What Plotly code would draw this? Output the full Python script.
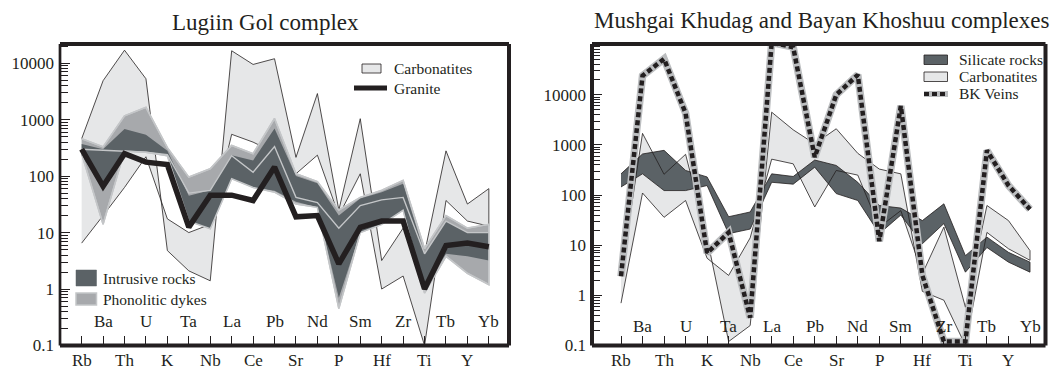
import plotly.graph_objects as go

# the page body keeps its default 8px margin, so the figure is drawn 8px in
OFF = 8
W, H = 1064 - OFF, 370 - OFF

elements = ["Rb", "Ba", "Th", "U", "K", "Ta", "Nb", "La", "Ce", "Pb",
            "Sr", "Nd", "P", "Sm", "Hf", "Zr", "Ti", "Tb", "Y", "Yb"]
y_tick_vals = [0.1, 1, 10, 100, 1000, 10000]
y_tick_text = ["0.1", "1", "10", "100", "1000", "10000"]

# ---------------- Lugiin Gol complex (left) ----------------
lg_carb_a = [460, 4900, 17000, 5300, 4.8, 2.1, 1.4, 16600, 9500, 12000,
             215, 2900, 25, 1040, 3.2, 12, 4.3, 280, 32, 60]
lg_carb_b = [6.5, 20, 63, 220, 17.5, 10, 14, 550, 400, 260,
             110, 235, 20, 110, 1.0, 1.7, 0.1, 37, 16, 13]
lg_phon_hi = [460, 330, 1170, 1650, 320, 96, 135, 350, 250, 1050,
              110, 80, 25, 42, 56, 84, 5.2, 20, 12, 14]
lg_phon_lo = [250, 14, 280, 265, 230, 16, 11.7, 90, 63, 52,
              32, 28, 0.45, 10, 14, 25, 0.85, 3.8, 1.9, 1.2]
lg_intr_hi = [370, 300, 680, 540, 280, 45, 56, 235, 190, 700,
              100, 75, 20, 40, 52, 73, 4.2, 16, 10, 10]
lg_intr_lo = [230, 63, 280, 265, 240, 16, 11.7, 90, 63, 55,
              35, 28, 0.7, 10, 14, 25, 1.1, 4.2, 3.8, 3.2]
lg_inner = [300, 290, 280, 265, 240, 50, 56, 230, 117, 335,
            42, 34, 12, 30, 38, 42, 4.2, 16, 10, 10]
lg_granite = [300, 66, 250, 177, 160, 12.5, 46, 46, 37, 145,
              19, 20, 2.8, 12.4, 16, 16, 1.0, 5.9, 6.5, 5.6]

# ---------------- Mushgai Khudag & Bayan Khoshuu (right) ----------------
mk_sil_hi = [265, 660, 780, 310, 230, 37, 46, 265, 235, 500,
             390, 180, 62, 55, 31, 67, 6.2, 14.5, 7.2, 4.6]
mk_sil_lo = [145, 265, 123, 123, 155, 17, 21, 180, 165, 360,
             107, 78, 17, 40, 10.7, 27, 2.9, 9, 4.6, 2.9]
mk_carb_a = [2.5, 1700, 260, 650, 14, 0.12, 0.25, 4500, 2000, 1050,
             2100, 680, 330, 265, 1.2, 0.8, 0.1, 18, 8.5, 5.0]
mk_carb_b = [0.7, 110, 36, 78, 5.5, 2.5, 14, 520, 420, 58,
             310, 250, 23, 49, 2.7, 23, 0.58, 62, 31, 7.8]
mk_bk_veins = [2.4, 24000, 52000, 4300, 7, 18, 0.36, 110000, 89000, 570,
               10000, 25000, 12, 6000, 2.5, 0.12, 0.12, 780, 155, 52]

# ---------------- styles ----------------
FONT = "Liberation Serif"
INK = "#231f20"
LIGHT = "#e6e7e8"
DARK = "#5b6266"
MED = "#a7a9ac"
MED_EDGE = "#c4c6c8"
VEIN_GRAY = "#bcbec0"

xs = list(range(len(elements)))


def poly(a, b):
    return xs + xs[::-1], list(a) + list(b)[::-1]


fig = go.Figure()


def add_band(a, b, xa, ya, fillcolor=None, line_color=None, line_width=0):
    px_, py_ = poly(a, b)
    fig.add_trace(go.Scatter(
        x=px_, y=py_, xaxis=xa, yaxis=ya, mode="lines",
        fill="toself" if fillcolor else "none",
        fillcolor=fillcolor,
        line=dict(color=line_color or "rgba(0,0,0,0)", width=line_width),
        hoverinfo="skip", showlegend=False))


# left chart
add_band(lg_carb_a, lg_carb_b, "x", "y", LIGHT, INK, 0.8)
add_band(lg_phon_hi, lg_phon_lo, "x", "y", MED, MED_EDGE, 1.6)
add_band(lg_intr_hi, lg_intr_lo, "x", "y", DARK, None, 0)
add_band(lg_phon_hi, lg_phon_lo, "x", "y", None, MED_EDGE, 1.4)
fig.add_trace(go.Scatter(x=xs, y=lg_inner, xaxis="x", yaxis="y", mode="lines",
                         line=dict(color=MED_EDGE, width=1.4),
                         hoverinfo="skip", showlegend=False))
fig.add_trace(go.Scatter(x=xs, y=lg_granite, xaxis="x", yaxis="y", mode="lines",
                         line=dict(color=INK, width=5.5),
                         hoverinfo="skip", showlegend=False))

# right chart
add_band(mk_carb_a, mk_carb_b, "x2", "y2", LIGHT, None, 0)
add_band(mk_sil_hi, mk_sil_lo, "x2", "y2", DARK, None, 0)
add_band(mk_carb_a, mk_carb_b, "x2", "y2", None, INK, 0.8)
add_band(mk_sil_hi, mk_sil_lo, "x2", "y2", None, INK, 0.8)
fig.add_trace(go.Scatter(x=xs, y=mk_bk_veins, xaxis="x2", yaxis="y2", mode="lines",
                         line=dict(color=VEIN_GRAY, width=7.5),
                         hoverinfo="skip", showlegend=False))
fig.add_trace(go.Scatter(x=xs, y=mk_bk_veins, xaxis="x2", yaxis="y2", mode="lines",
                         line=dict(color=INK, width=4.5, dash="5px,3px"),
                         hoverinfo="skip", showlegend=False))


# ---------------- axes ----------------
def px_x(x):
    return (x - OFF) / W


def px_y(y):
    return (H - (y - OFF)) / H


y_dom = [px_y(345.5), px_y(44)]
minor_vals = [m * 10 ** e for e in range(-1, 6) for m in range(2, 10)]

common_x = dict(tickmode="array", tickvals=xs, ticktext=[""] * len(xs),
                ticks="inside", ticklen=10, tickwidth=1, tickcolor=INK,
                showgrid=False, zeroline=False, showline=False,
                automargin=False, fixedrange=True)
common_y = dict(type="log", tickmode="array", tickvals=y_tick_vals, ticktext=y_tick_text,
                ticks="inside", ticklen=10, tickwidth=1.2, tickcolor=INK,
                minor=dict(tickvals=minor_vals, ticks="inside", ticklen=8,
                           tickwidth=1, tickcolor=INK),
                showgrid=False, zeroline=False, showline=False,
                tickfont=dict(family=FONT, size=17, color=INK),
                ticklabelstandoff=5, automargin=False, fixedrange=True)

fig.update_layout(
    width=W, height=H,
    margin=dict(l=0, r=0, t=0, b=0),
    paper_bgcolor="white", plot_bgcolor="white",
    showlegend=False,
    xaxis=dict(domain=[px_x(60), px_x(509)], range=[-1.01, 19.94], anchor="y", **common_x),
    yaxis=dict(domain=y_dom, range=[-1, 4.34], anchor="x", **common_y),
    xaxis2=dict(domain=[px_x(592), px_x(1045.5)], range=[-1.347, 19.72], anchor="y2", **common_x),
    yaxis2=dict(domain=y_dom, range=[-1, 5.013], anchor="x2", **common_y),
)

# element labels: odd ones inside the plot, even ones below the axis
annotations = []
for i, e in enumerate(elements):
    if i % 2 == 1:
        shifts = (24, 19)
    else:
        shifts = (-14.5, -15)
    for (xr, yr), sh in zip((("x", "y domain"), ("x2", "y2 domain")), shifts):
        annotations.append(dict(x=i, y=0, xref=xr, yref=yr, text=e,
                                showarrow=False, yanchor="middle", yshift=sh,
                                font=dict(family=FONT, size=17, color=INK)))

# titles
annotations.append(dict(x=px_x(265), y=px_y(22), xref="paper", yref="paper",
                        text="Lugiin Gol complex", showarrow=False,
                        xanchor="center", yanchor="middle",
                        font=dict(family=FONT, size=23, color=INK)))
annotations.append(dict(x=px_x(822), y=px_y(20), xref="paper", yref="paper",
                        text="Mushgai Khudag and Bayan Khoshuu complexes", showarrow=False,
                        xanchor="center", yanchor="middle",
                        font=dict(family=FONT, size=23, color=INK)))

shapes = []


def legend_text(x, y, text):
    annotations.append(dict(x=px_x(x), y=px_y(y), xref="paper", yref="paper",
                            text=text, showarrow=False, xanchor="left", yanchor="middle",
                            font=dict(family=FONT, size=15.5, color=INK)))


def legend_box(x0, y0, x1, y1, fill, edge, w):
    shapes.append(dict(type="rect", xref="paper", yref="paper",
                       x0=px_x(x0), x1=px_x(x1), y0=px_y(y1), y1=px_y(y0),
                       fillcolor=fill, line=dict(color=edge, width=w), layer="above"))


def legend_line(x0, x1, y, color, w, dash="solid"):
    shapes.append(dict(type="line", xref="paper", yref="paper",
                       x0=px_x(x0), x1=px_x(x1), y0=px_y(y), y1=px_y(y),
                       line=dict(color=color, width=w, dash=dash), layer="above"))


# left legends
legend_box(362, 64, 381, 73, LIGHT, INK, 0.8)
legend_text(392, 68.5, "Carbonatites")
legend_line(354, 387, 88, INK, 5)
legend_text(392, 88, "Granite")
legend_box(76, 270, 96.5, 286, DARK, DARK, 0.5)
legend_text(100.5, 278, "Intrusive rocks")
legend_box(76, 293, 96.5, 305, MED, MED_EDGE, 1.5)
legend_text(100.5, 299, "Phonolitic dykes")

# right legend
legend_box(924, 55, 947.5, 64.5, DARK, INK, 0.8)
legend_text(957, 60, "Silicate rocks")
legend_box(924, 72, 947.5, 81.5, LIGHT, INK, 0.8)
legend_text(957, 76.5, "Carbonatites")
legend_line(924, 948, 94, VEIN_GRAY, 6)
legend_line(924, 948, 94, INK, 4, "5px,3px")
legend_text(957, 93, "BK Veins")

# frames
for xa, ya, lw in (("x", "y", 2.7), ("x2", "y2", 4)):
    xr, yr = xa + " domain", ya + " domain"
    shapes.append(dict(type="line", xref=xr, yref=yr, x0=0, x1=1, y0=1, y1=1,
                       line=dict(color=INK, width=4), layer="above"))
    shapes.append(dict(type="line", xref=xr, yref=yr, x0=0, x1=1, y0=0, y1=0,
                       line=dict(color=INK, width=4), layer="above"))
    shapes.append(dict(type="line", xref=xr, yref=yr, x0=1, x1=1, y0=0, y1=1,
                       line=dict(color=INK, width=4), layer="above"))
    shapes.append(dict(type="line", xref=xr, yref=yr, x0=0, x1=0, y0=0, y1=1,
                       line=dict(color=INK, width=lw), layer="above"))

fig.update_layout(annotations=annotations, shapes=shapes)

fig.write_html("out.html")
